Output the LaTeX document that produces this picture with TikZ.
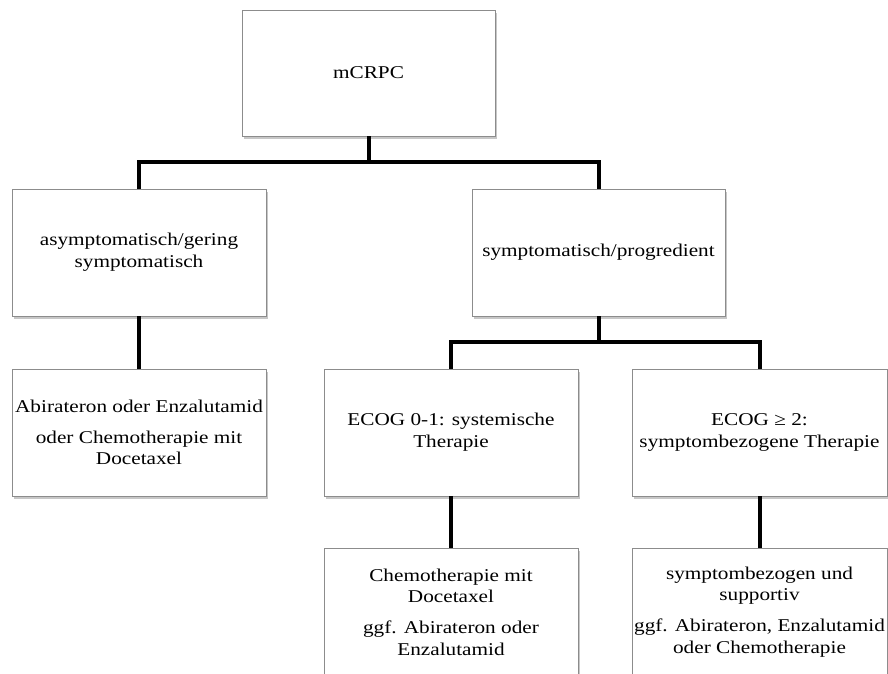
\documentclass[tikz,border=0pt]{standalone}
\usepackage{fontspec}
\setmainfont{Liberation Serif}[FakeStretch=1.18]
\usetikzlibrary{shadows}
\begin{document}
\begin{tikzpicture}[x=1pt,y=-1pt,
  box/.style={draw=black!45, line width=0.8pt, fill=white, inner sep=0pt,
    minimum height=127pt, align=center,
    font=\fontsize{18}{21.7}\selectfont,
    drop shadow={shadow xshift=1.5pt, shadow yshift=-2.5pt, opacity=0.22, fill=black}},
  conn/.style={line width=4pt, draw=black}]
\clip (0,0) rectangle (888,673);
\fill[white] (0,0) rectangle (888,673);

\node[box, minimum width=253pt, minimum height=126pt] (top) at (368.5,73) {mCRPC};
\node[box, minimum width=254pt] (left) at (139,252.5) {asymptomatisch/gering\\symptomatisch};
\node[box, minimum width=253pt] (right) at (598.5,252.5) {symptomatisch/progredient};
\node[box, minimum width=254pt] (abi) at (139,432.5)
  {Abirateron oder Enzalutamid\\[9pt]oder Chemotherapie mit\\Docetaxel};
\node[box, minimum width=254pt] (e01) at (451,432.5) {ECOG 0-1: systemische\\Therapie};
\node[box, minimum width=255pt] (e2) at (759.5,432.5) {ECOG ≥ 2:\\symptombezogene Therapie};
\node[box, minimum width=254pt] (b1) at (451,612)
  {Chemotherapie mit\\Docetaxel\\[9pt]ggf. Abirateron oder\\Enzalutamid};
\node[box, minimum width=255pt] (b2) at (759.5,612)
  {symptombezogen und\\supportiv\\[9pt]ggf. Abirateron, Enzalutamid\\oder Chemotherapie};

\draw[conn] (top.south) -- ++(0,27);
\draw[conn] (left.north) -- ++(0,-26.5) -| (right.north);
\draw[conn] (left.south) -- (abi.north);
\draw[conn] (right.south) -- ++(0,27);
\draw[conn] (e01.north) -- ++(0,-26.5) -| (e2.north);
\draw[conn] (e01.south) -- (b1.north);
\draw[conn] (e2.south) -- (b2.north);
\end{tikzpicture}
\end{document}
